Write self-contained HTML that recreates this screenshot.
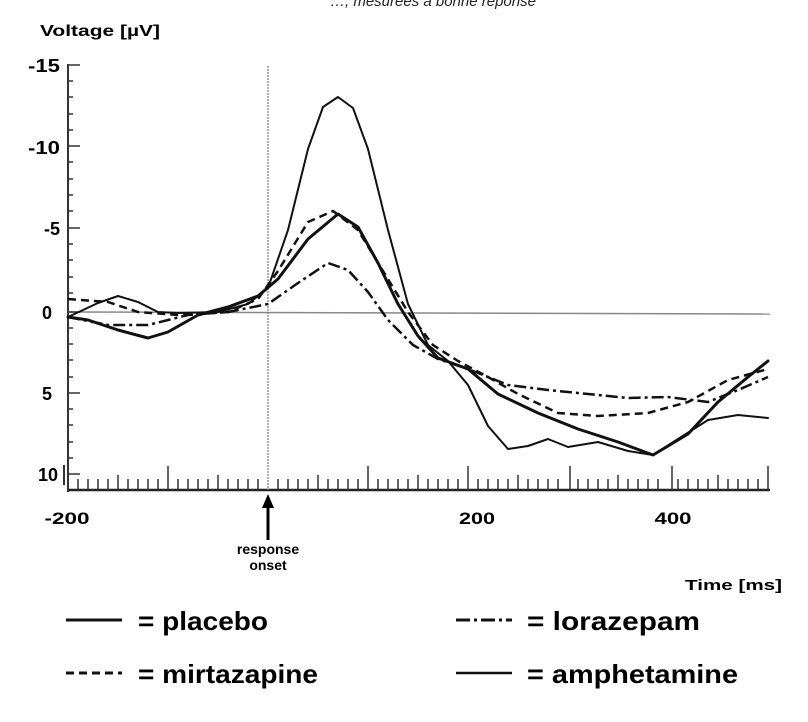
<!DOCTYPE html>
<html><head><style>
html,body{margin:0;padding:0;background:#fff;}
svg{display:block;font-family:"Liberation Sans",Arial,sans-serif;}
</style></head><body>
<svg width="808" height="722" viewBox="0 0 808 722">
<text x="330" y="6" font-size="15" font-style="italic" fill="#222">…, mesurées à bonne réponse</text>
<text x="40" y="36" font-size="16" font-weight="bold" textLength="120" lengthAdjust="spacingAndGlyphs">Voltage [µV]</text>
<g font-size="18" font-weight="bold" text-anchor="end">
<text x="60" y="72" textLength="32" lengthAdjust="spacingAndGlyphs">-15</text><text x="60" y="154" textLength="32" lengthAdjust="spacingAndGlyphs">-10</text><text x="60" y="235">-5</text>
<text x="52" y="319">0</text><text x="52" y="400">5</text><text x="58" y="481">10</text>
</g>
<g font-size="17" font-weight="bold" text-anchor="middle">
<text x="67" y="524" textLength="45" lengthAdjust="spacingAndGlyphs">-200</text><text x="477" y="524" textLength="36" lengthAdjust="spacingAndGlyphs">200</text><text x="673" y="524" textLength="37" lengthAdjust="spacingAndGlyphs">400</text>
</g>
<text x="685" y="590" font-size="15" font-weight="bold" textLength="97" lengthAdjust="spacingAndGlyphs">Time [ms]</text>
<text x="268" y="554" font-size="14" font-weight="bold" text-anchor="middle">response</text>
<text x="268" y="570" font-size="14" font-weight="bold" text-anchor="middle">onset</text>
<line x1="268" y1="540" x2="268" y2="505" stroke="#000" stroke-width="3"/>
<polygon points="268,494 262,508 274,508" fill="#000"/>
<!-- axes -->
<line x1="68" y1="64" x2="68" y2="492" stroke="#333" stroke-width="2"/>
<line x1="64" y1="465" x2="64" y2="485" stroke="#333" stroke-width="2"/>
<line x1="68" y1="490" x2="770" y2="490" stroke="#222" stroke-width="2.5"/>
<line x1="68" y1="312" x2="770" y2="314" stroke="#888" stroke-width="1.5"/>
<line x1="268" y1="66" x2="268" y2="490" stroke="#777" stroke-width="1.2" stroke-dasharray="2,1"/>
<g stroke="#333" stroke-width="1.5">
<path d="M68 65h12M68 146h12M68 228h12M68 312h12M68 393h12M68 474h12"/>
<path d="M68 81h5M68 97h5M68 114h5M68 130h5M68 162h5M68 179h5M68 195h5M68 211h5M68 244h5M68 260h5M68 277h5M68 293h5M68 328h5M68 344h5M68 360h5M68 377h5M68 409h5M68 425h5M68 442h5M68 458h5"/>
<path d="M78 490v-11M88 490v-11M98 490v-11M108 490v-11M128 490v-11M138 490v-11M148 490v-11M158 490v-11M178 490v-11M188 490v-11M198 490v-11M208 490v-11M228 490v-11M238 490v-11M248 490v-11M258 490v-11M278 490v-11M288 490v-11M298 490v-11M308 490v-11M328 490v-11M338 490v-11M348 490v-11M358 490v-11M378 490v-11M388 490v-11M398 490v-11M408 490v-11M428 490v-11M438 490v-11M448 490v-11M458 490v-11M478 490v-11M488 490v-11M498 490v-11M508 490v-11M528 490v-11M538 490v-11M548 490v-11M558 490v-11M578 490v-11M588 490v-11M598 490v-11M608 490v-11M628 490v-11M638 490v-11M648 490v-11M658 490v-11M678 490v-11M688 490v-11M698 490v-11M708 490v-11M728 490v-11M738 490v-11M748 490v-11M758 490v-11"/>
<path d="M118 490v-15M218 490v-15M318 490v-15M418 490v-15M518 490v-15M618 490v-15M718 490v-15"/>
<path d="M168 490v-24M368 490v-24M468 490v-24M570 490v-24M672 490v-24M768 490v-24"/>
</g>
<!-- series -->
<g fill="none" stroke="#111" stroke-linejoin="round" stroke-linecap="round">
<polyline stroke-width="2" points="68,317 98,303 118,296 138,302 158,312 178,313 218,312 248,304 268,288 288,230 308,149 323,107 338,97 353,108 368,149 388,230 408,304 428,345 448,361 468,385 488,426 508,449 528,446 548,439 568,447 598,442 628,451 653,455 678,439 708,420 738,415 768,418"/>
<polyline stroke-width="3" points="68,317 88,320 118,330 148,338 168,332 198,315 228,307 258,296 278,279 308,239 338,214 358,227 378,263 398,304 418,336 438,358 468,369 498,394 538,413 578,429 618,442 653,455 688,434 718,402 748,377 768,361"/>
<polyline stroke-width="2.5" stroke-dasharray="8,5" stroke-linecap="butt" points="68,299 108,302 138,312 178,315 228,312 258,299 278,271 308,222 333,211 358,230 383,271 408,312 433,345 458,361 488,377 518,394 558,413 598,416 648,413 688,402 728,380 768,369"/>
<polyline stroke-width="2.5" stroke-dasharray="12,4,3,4" stroke-linecap="butt" points="68,317 108,325 148,325 188,315 228,312 268,304 298,283 328,263 348,270 368,292 388,320 413,345 438,359 468,369 508,385 548,390 588,394 628,398 668,397 708,402 738,390 768,377"/>
</g>
<!-- legend -->
<g stroke="#111" stroke-width="3">
<line x1="66" y1="620" x2="122" y2="620"/>
<line x1="66" y1="673" x2="122" y2="673" stroke-dasharray="8,5"/>
<line x1="456" y1="620" x2="512" y2="620" stroke-dasharray="14,4,3,4"/>
<line x1="456" y1="673" x2="512" y2="673" stroke-width="2.5"/>
</g>
<g font-size="26" font-weight="bold">
<text x="138" y="630" textLength="130" lengthAdjust="spacingAndGlyphs">= placebo</text>
<text x="138" y="683" textLength="180" lengthAdjust="spacingAndGlyphs">= mirtazapine</text>
<text x="527" y="630" textLength="173" lengthAdjust="spacingAndGlyphs">= lorazepam</text>
<text x="527" y="683" textLength="211" lengthAdjust="spacingAndGlyphs">= amphetamine</text>
</g>
</svg>
</body></html>
